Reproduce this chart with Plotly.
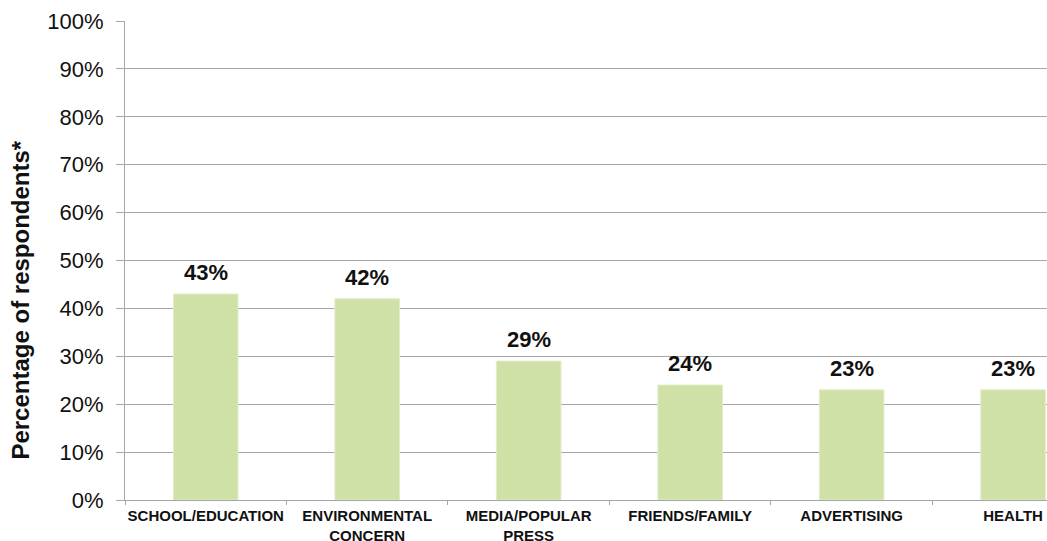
import plotly.graph_objects as go

# Sources of information cited by respondents
categories = ["SCHOOL/EDUCATION", "ENVIRONMENTAL<br>CONCERN", "MEDIA/POPULAR<br>PRESS",
              "FRIENDS/FAMILY", "ADVERTISING", "HEALTH"]
percentages = [43, 42, 29, 24, 23, 23]
y_ticks = [0, 10, 20, 30, 40, 50, 60, 70, 80, 90, 100]
y_tick_labels = [f"{v}%" for v in y_ticks]

W, H = 1047, 541
ML, MR, MT, MB = 125, 0, 21, 41
FONT = "Liberation Sans, Arial"

fig = go.Figure(
    go.Bar(
        x=categories,
        y=percentages,
        marker=dict(color="#D0E1A7", line=dict(color="#E2EDC8", width=1)),
        width=0.4,
        cliponaxis=False,
    )
)

# value labels above each bar
value_labels = [
    dict(
        x=cat,
        y=val,
        xref="x",
        yref="y",
        text=f"<b>{val}%</b>",
        showarrow=False,
        yanchor="bottom",
        yshift=7,
        font=dict(family=FONT, size=22, color="#111111"),
    )
    for cat, val in zip(categories, percentages)
]

fig.update_layout(
    width=W,
    height=H,
    margin=dict(l=ML, r=MR, t=MT, b=MB),
    plot_bgcolor="white",
    paper_bgcolor="white",
    showlegend=False,
    xaxis=dict(
        type="category",
        range=[-0.5, 5.21],
        automargin=False,
        tickson="boundaries",
        ticks="outside",
        ticklen=4,
        tickcolor="#A6A6A6",
        showline=True,
        linecolor="#A6A6A6",
        linewidth=1,
        showgrid=False,
        tickangle=0,
        ticklabelstandoff=2,
        tickfont=dict(family=FONT, size=15, color="#111111", weight="bold"),
    ),
    yaxis=dict(
        range=[0, 100],
        automargin=False,
        tickvals=y_ticks,
        ticktext=y_tick_labels,
        ticks="outside",
        ticklen=8,
        tickcolor="#A6A6A6",
        showline=True,
        linecolor="#A6A6A6",
        linewidth=1,
        showgrid=True,
        gridcolor="#A6A6A6",
        gridwidth=1,
        zeroline=False,
        ticklabelstandoff=8,
        tickfont=dict(family=FONT, size=22, color="#111111"),
    ),
    annotations=value_labels + [
        dict(
            text="<b>Percentage of respondents*</b>",
            xref="paper",
            yref="paper",
            x=(21 - ML) / (W - ML - MR),
            y=(500 - 301) / (H - MT - MB - 1),
            xanchor="center",
            yanchor="middle",
            textangle=-90,
            showarrow=False,
            font=dict(family=FONT, size=24, color="#111111"),
        )
    ],
)

fig.write_html("out.html")
